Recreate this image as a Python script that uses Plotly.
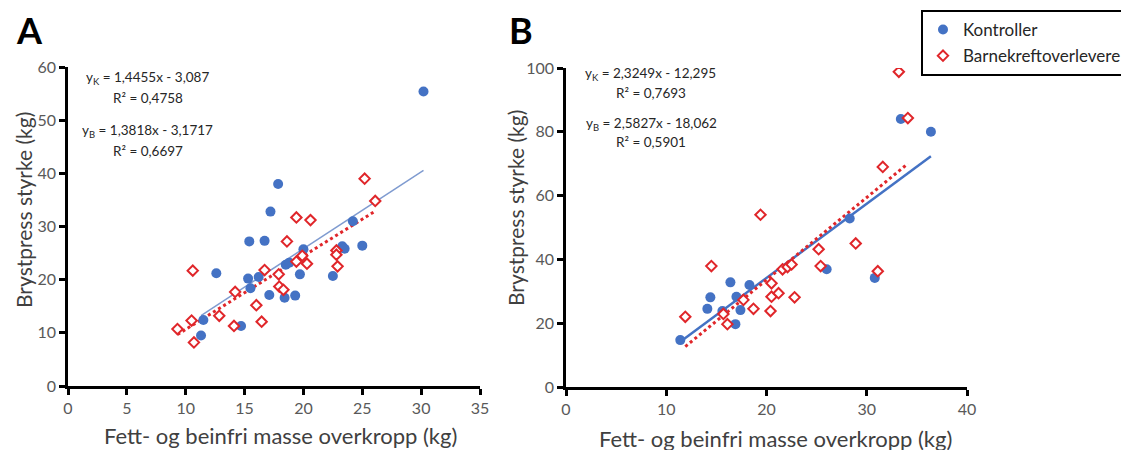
import plotly.graph_objects as go

# ---------------- data ----------------
# Panel A
a_kontroll_x = [30.2, 17.85, 17.2, 15.4, 16.7, 24.2, 20.0, 23.3, 23.5, 25.0, 18.5, 18.8,
                19.7, 22.5, 17.1, 18.4, 19.3, 15.3, 16.2, 15.5, 12.6, 11.5, 11.3, 14.7]
a_kontroll_y = [55.4, 38.0, 32.8, 27.2, 27.3, 31.0, 25.7, 26.3, 25.8, 26.4, 22.8, 23.2,
                21.0, 20.7, 17.1, 16.6, 17.0, 20.2, 20.5, 18.4, 21.2, 12.4, 9.5, 11.3]
a_barn_x = [25.2, 26.1, 19.4, 20.6, 18.6, 16.7, 17.9, 19.4, 19.9, 20.3, 22.8, 22.8,
            22.9, 17.95, 18.3, 14.2, 16.0, 16.45, 10.6, 12.85, 10.5, 9.3, 10.7, 14.1]
a_barn_y = [39.0, 34.8, 31.7, 31.2, 27.2, 21.8, 21.0, 23.4, 24.5, 23.0, 25.5, 24.7,
            22.5, 18.7, 18.1, 17.7, 15.2, 12.1, 21.7, 13.2, 12.3, 10.7, 8.2, 11.3]

# Panel B
b_kontroll_x = [11.4, 14.4, 14.1, 16.4, 17.0, 18.3, 15.6, 17.4, 16.9, 26.0, 28.3, 30.8, 33.4, 36.4]
b_kontroll_y = [14.7, 28.1, 24.5, 32.8, 28.3, 32.0, 23.8, 24.1, 19.7, 36.9, 52.8, 34.2, 84.0, 80.0]
b_barn_x = [14.5, 11.9, 15.7, 16.1, 17.7, 18.7, 20.5, 20.5, 21.2, 20.4, 22.8, 21.6, 22.1, 22.5,
            25.2, 25.4, 19.4, 28.9, 31.1, 31.6, 33.2, 34.1]
b_barn_y = [37.9, 22.0, 22.9, 19.7, 27.3, 24.5, 32.5, 28.3, 29.4, 23.8, 28.1, 36.9, 37.6, 38.4,
            43.2, 37.9, 54.0, 45.0, 36.3, 69.0, 98.8, 84.3]

# regression coefficients (slope, intercept) as printed
a_k_coef = [1.4455, -3.087]
a_b_coef = [1.3818, -3.1717]
b_k_coef = [2.3249, -12.295]
b_b_coef = [2.5827, -18.062]

eq_texts_a = ["y<sub>K</sub> = 1,4455x - 3,087", "R² = 0,4758",
              "y<sub>B</sub> = 1,3818x - 3,1717", "R² = 0,6697"]
eq_texts_b = ["y<sub>K</sub> = 2,3249x - 12,295", "R² = 0,7693",
              "y<sub>B</sub> = 2,5827x - 18,062", "R² = 0,5901"]

series_names = ["Kontroller", "Barnekreftoverlevere"]
x_title = "Fett- og beinfri masse overkropp (kg)"
y_title = "Brystpress styrke (kg)"

BLUE = "#4472C4"
RED = "#E0262A"
FONT = "Lato, 'Open Sans', sans-serif"
W, H = 1129, 450
OX, OY = 8, 8  # page offset of the plot div


def px(x):
    return (x - OX) / W


def py(y):
    return 1 - (y - OY) / H


def trend(xs, coef):
    x0, x1 = min(xs), max(xs)
    return [x0, x1], [coef[0] * x0 + coef[1], coef[0] * x1 + coef[1]]


fig = go.Figure()

# Panel A
tx, ty = trend(a_kontroll_x, a_k_coef)
fig.add_trace(go.Scatter(x=tx, y=ty, mode="lines", line=dict(color="#7F9BD0", width=1.5),
                         showlegend=False, hoverinfo="skip", xaxis="x", yaxis="y"))
tx, ty = trend(a_barn_x, a_b_coef)
fig.add_trace(go.Scatter(x=tx, y=ty, mode="lines", line=dict(color=RED, width=3, dash="dot"),
                         showlegend=False, hoverinfo="skip", xaxis="x", yaxis="y"))
fig.add_trace(go.Scatter(x=a_kontroll_x, y=a_kontroll_y, mode="markers", name=series_names[0],
                         marker=dict(color=BLUE, size=10, symbol="circle"),
                         xaxis="x", yaxis="y", legendgroup="k"))
fig.add_trace(go.Scatter(x=a_barn_x, y=a_barn_y, mode="markers", name=series_names[1],
                         marker=dict(color="white", size=8, symbol="diamond",
                                     line=dict(color=RED, width=2)),
                         xaxis="x", yaxis="y", legendgroup="b"))

# Panel B
tx, ty = trend(b_kontroll_x, b_k_coef)
fig.add_trace(go.Scatter(x=tx, y=ty, mode="lines", line=dict(color=BLUE, width=2.5),
                         showlegend=False, hoverinfo="skip", xaxis="x2", yaxis="y2"))
tx, ty = trend(b_barn_x, b_b_coef)
fig.add_trace(go.Scatter(x=tx, y=ty, mode="lines", line=dict(color=RED, width=3, dash="dot"),
                         showlegend=False, hoverinfo="skip", xaxis="x2", yaxis="y2"))
fig.add_trace(go.Scatter(x=b_kontroll_x, y=b_kontroll_y, mode="markers", name=series_names[0],
                         marker=dict(color=BLUE, size=10, symbol="circle"),
                         xaxis="x2", yaxis="y2", legendgroup="k", showlegend=False))
fig.add_trace(go.Scatter(x=b_barn_x, y=b_barn_y, mode="markers", name=series_names[1],
                         marker=dict(color="white", size=8, symbol="diamond",
                                     line=dict(color=RED, width=2)),
                         xaxis="x2", yaxis="y2", legendgroup="b", showlegend=False))

axis_common = dict(showline=True, linecolor="black", linewidth=2.5, ticks="outside",
                   ticklen=6, tickwidth=2.5, tickcolor="black", showgrid=False, zeroline=False,
                   automargin=False,
                   tickfont=dict(family=FONT, size=16, color="#595959"))

fig.update_layout(
    width=W, height=H,
    margin=dict(l=0, r=0, t=0, b=0, pad=0, autoexpand=False),
    paper_bgcolor="white", plot_bgcolor="white",
    font=dict(family=FONT),
    xaxis=dict(domain=[px(68), px(480)], range=[0, 35], dtick=5, anchor="y", **axis_common),
    yaxis=dict(domain=[py(386), py(67)], range=[0, 60], dtick=10, anchor="x", **axis_common),
    xaxis2=dict(domain=[px(566), px(967)], range=[0, 40], dtick=10, anchor="y2", **axis_common),
    yaxis2=dict(domain=[py(387), py(68)], range=[0, 100], dtick=20, anchor="x2", **axis_common),
    legend=dict(x=px(921), y=py(10), xanchor="left", yanchor="top",
                bordercolor="black", borderwidth=2, bgcolor="white",
                font=dict(family=FONT, size=17, color="#262626"),
                tracegroupgap=1, itemwidth=30),
    showlegend=True,
)

ann = []
# panel letters
ann.append(dict(text="<b>A</b>", x=px(29), y=py(30), xref="paper", yref="paper",
                xanchor="center", yanchor="middle",
                showarrow=False, font=dict(family=FONT, size=36, color="black")))
ann.append(dict(text="<b>B</b>", x=px(521), y=py(30), xref="paper", yref="paper",
                xanchor="center", yanchor="middle",
                showarrow=False, font=dict(family=FONT, size=36, color="black")))

# axis titles
for (x, y) in [(280, 435), (775, 438)]:
    ann.append(dict(text=x_title, x=px(x), y=py(y), xref="paper", yref="paper",
                    xanchor="center", yanchor="middle", showarrow=False,
                    font=dict(family=FONT, size=22, color="#404040")))
for (x, y) in [(23, 210), (515, 208)]:
    ann.append(dict(text=y_title, x=px(x), y=py(y), xref="paper", yref="paper",
                    xanchor="center", yanchor="middle", showarrow=False, textangle=-90,
                    font=dict(family=FONT, size=21, color="#404040")))

pos_a = [(147, 78), (148, 98), (147, 131), (148, 151)]
pos_b = [(650, 74), (651, 93), (651, 124), (651, 142)]
for t, (x, y) in zip(eq_texts_a + eq_texts_b, pos_a + pos_b):
    ann.append(dict(text=t, x=px(x), y=py(y), xref="paper", yref="paper",
                    xanchor="center", yanchor="middle", showarrow=False,
                    font=dict(family=FONT, size=13.5, color="#262626")))
fig.update_layout(annotations=ann)

fig.write_html("out.html")
